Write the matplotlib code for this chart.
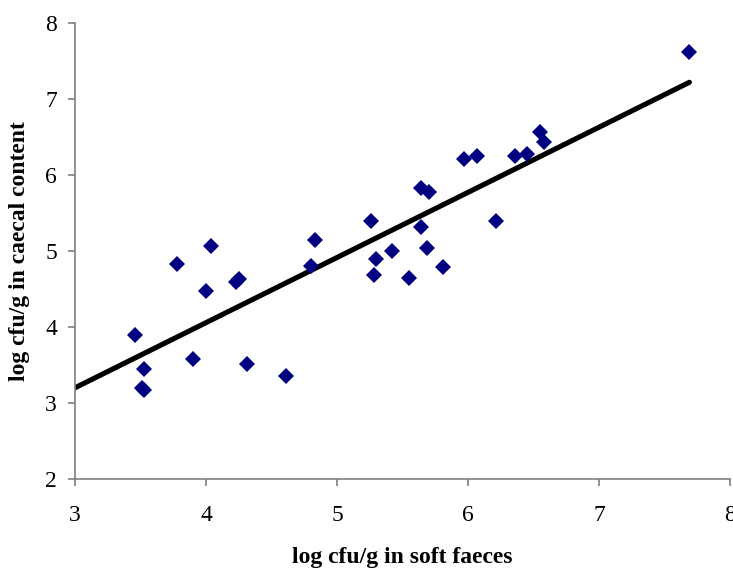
import matplotlib
matplotlib.use("Agg")
import matplotlib.pyplot as plt

soft_faeces = [3.46, 3.53, 3.51, 3.53, 3.78, 3.90, 4.00, 4.04, 4.23, 4.25, 4.31, 4.61,
               4.80, 4.83, 5.26, 5.28, 5.30, 5.42, 5.55, 5.64, 5.64, 5.70, 5.69, 5.81,
               5.97, 6.07, 6.21, 6.36, 6.45, 6.55, 6.58, 7.69]
caecal = [3.90, 3.45, 3.20, 3.17, 4.83, 3.58, 4.47, 5.06, 4.59, 4.63, 3.51, 3.36,
          4.80, 5.15, 5.40, 4.69, 4.90, 5.00, 4.65, 5.32, 5.83, 5.77, 5.04, 4.79,
          6.21, 6.25, 5.39, 6.25, 6.27, 6.56, 6.44, 7.62]
trend_x = [3.0, 7.69]
trend_y = [3.20, 7.22]
x_ticks = [3, 4, 5, 6, 7, 8]
y_ticks = [2, 3, 4, 5, 6, 7, 8]

plt.rcParams['font.family'] = ['Liberation Serif', 'DejaVu Serif']

fig = plt.figure(figsize=(7.33, 5.68), dpi=100)
ax = fig.add_axes([75/733, 1-479/568, (730-75)/733, (479-23)/568])

ax.plot(soft_faeces, caecal, linestyle='none', marker='D', markersize=8,
        color='#000080', markeredgewidth=0, zorder=3)
ax.plot(trend_x, trend_y, color='black', linewidth=3.7, solid_capstyle='round', zorder=2)

ax.set_xlim(3, 8)
ax.set_ylim(2, 8)
ax.set_xticks(x_ticks)
ax.set_yticks(y_ticks)
ax.set_xticklabels([str(t) for t in x_ticks])
ax.set_yticklabels([str(t) for t in y_ticks])

for s in ['top', 'right']:
    ax.spines[s].set_visible(False)
for s in ['left', 'bottom']:
    ax.spines[s].set_color('#808080')
    ax.spines[s].set_linewidth(1.2)

ax.tick_params(axis='both', direction='out', length=5, width=1.2, color='#808080',
               labelsize=17, labelcolor='black')
ax.tick_params(axis='x', pad=14)
ax.tick_params(axis='y', pad=8)

ax.set_xlabel('log cfu/g in soft faeces', fontsize=17, fontweight='bold', labelpad=15)
ax.set_ylabel('log cfu/g in caecal content', fontsize=17, fontweight='bold', labelpad=11)

fig.savefig('out.png', dpi=100)
